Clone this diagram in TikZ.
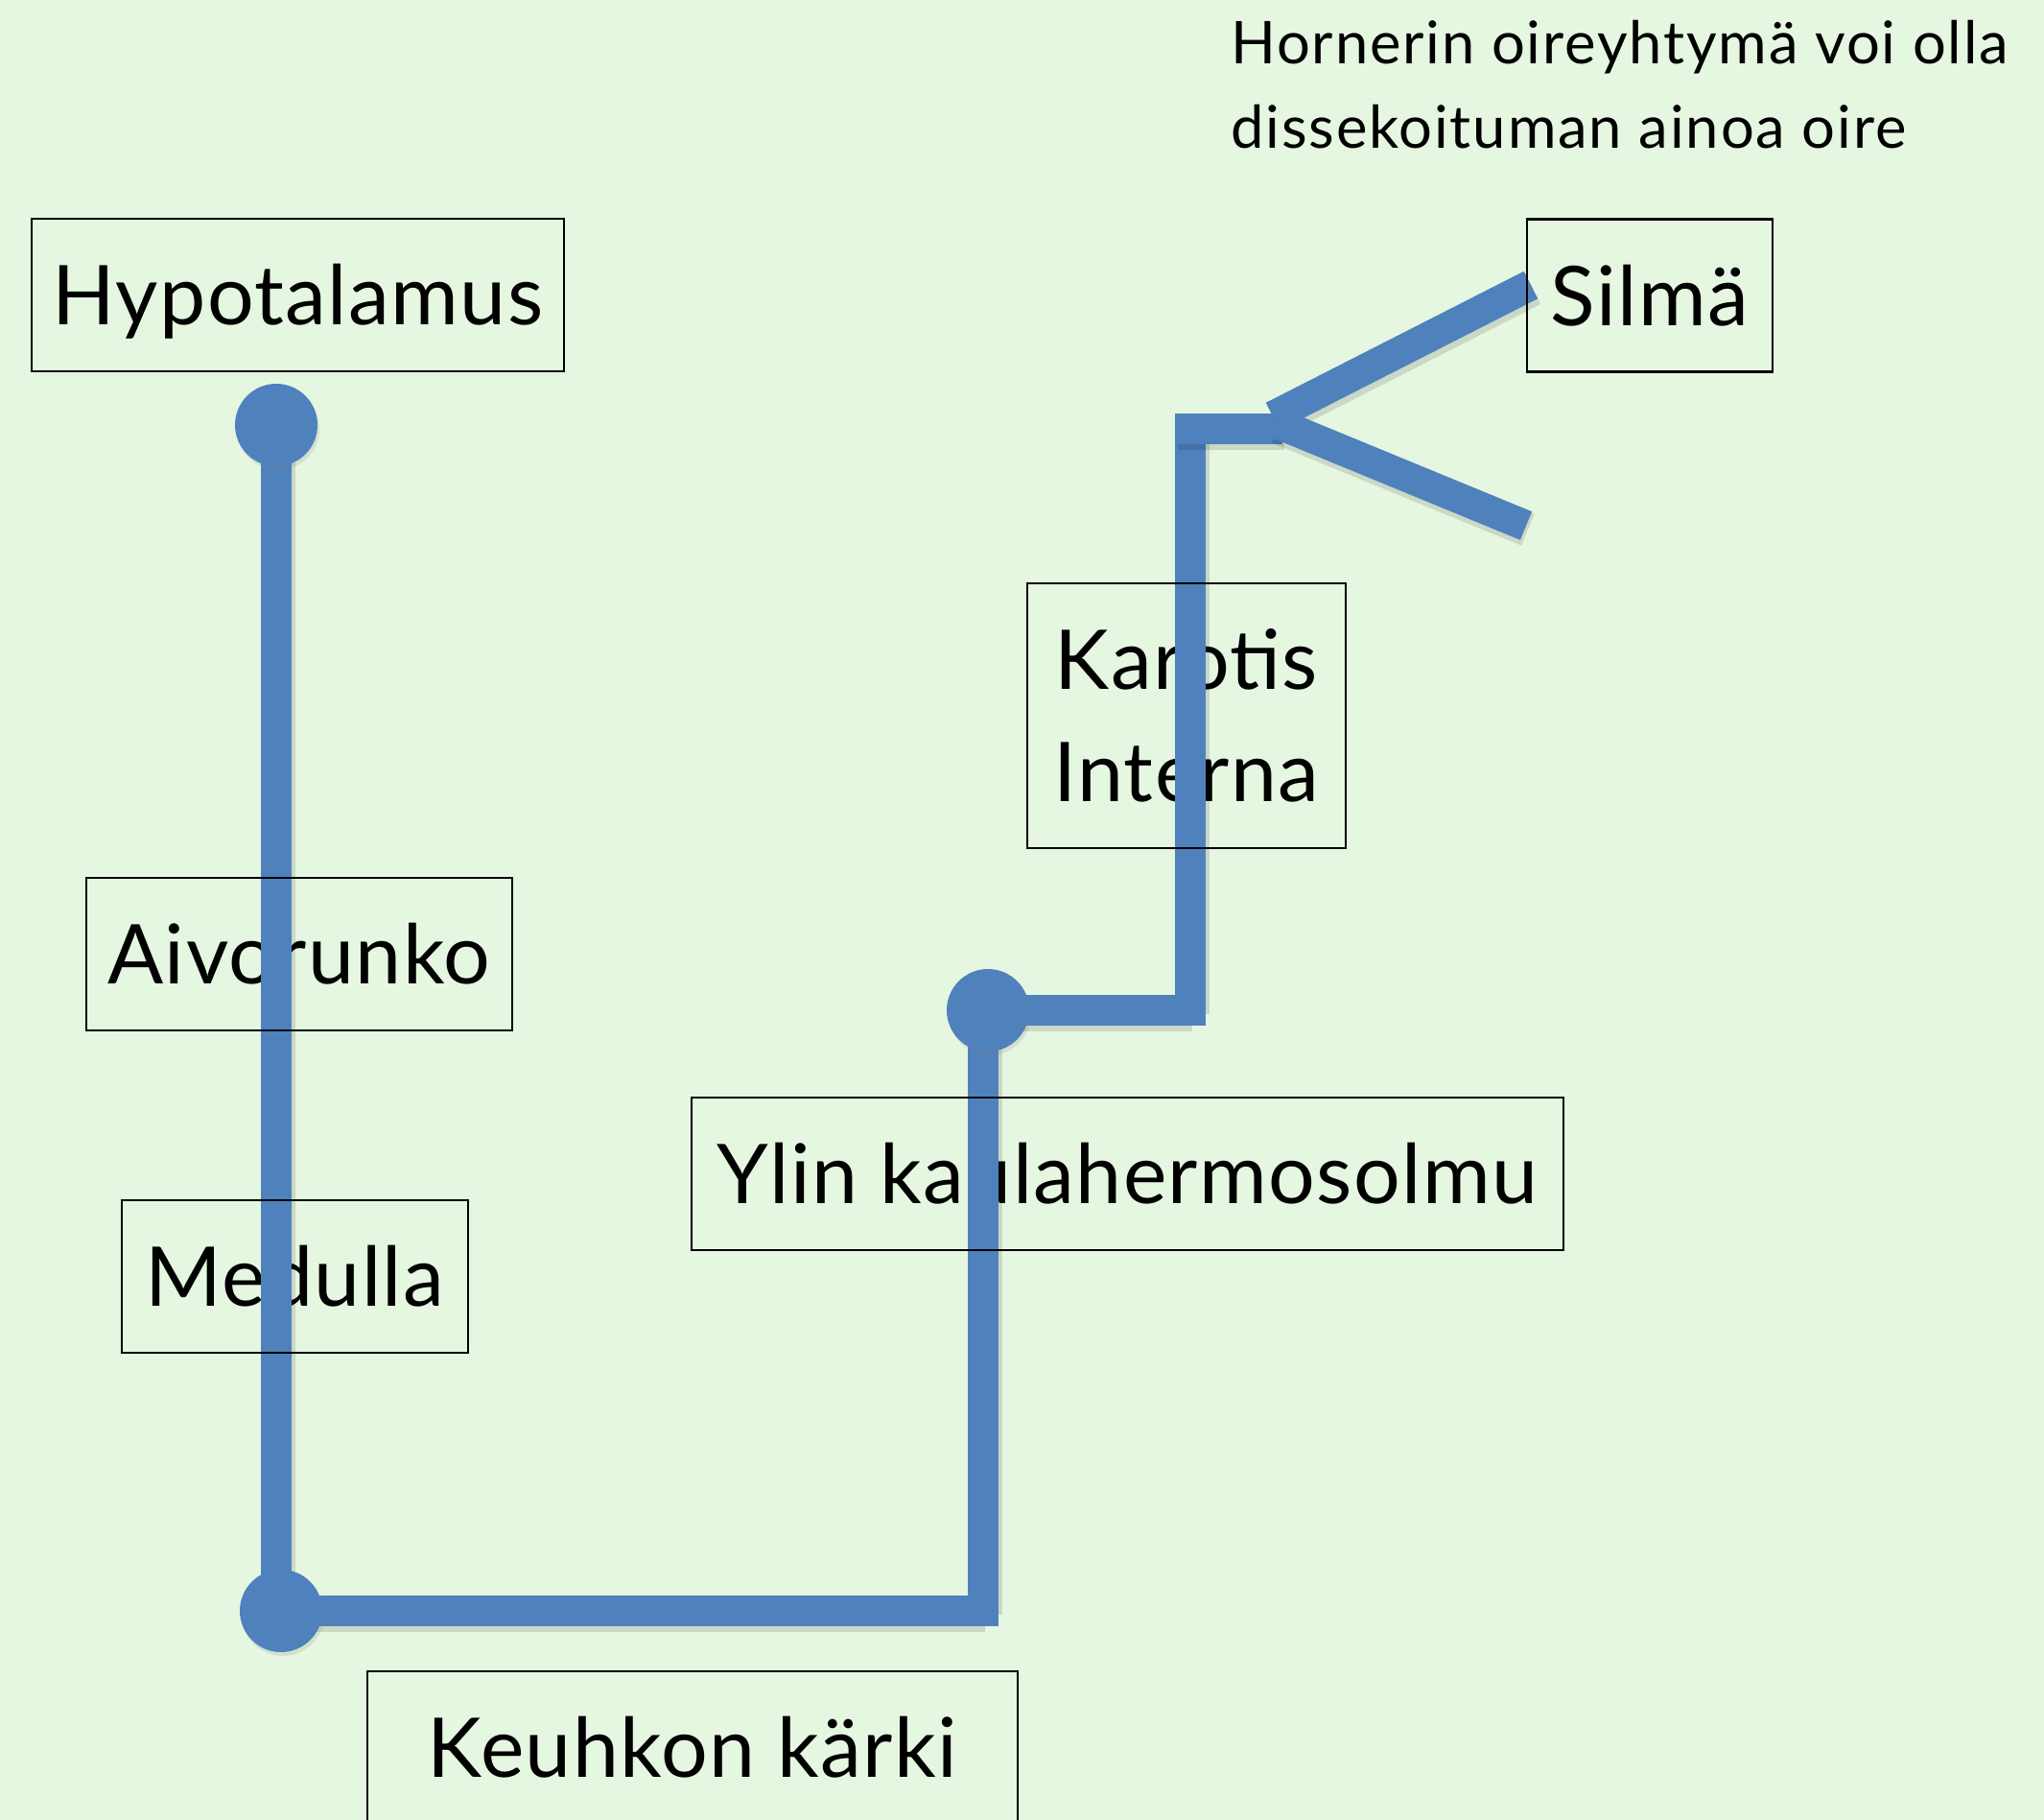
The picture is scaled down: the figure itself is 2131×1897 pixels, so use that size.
\documentclass[tikz,border=0pt]{standalone}
\usepackage{fontspec}
\setmainfont{Lato}[LetterSpace=1.6]
\newfontfamily\titlefont{Lato}[LetterSpace=3]
\usetikzlibrary{shadows}
\definecolor{bg}{RGB}{230,247,225}
\definecolor{nerve}{RGB}{79,129,189}
\tikzset{
  lbl/.style={inner sep=0pt, minimum height=159pt, text height=62pt, text depth=0pt,
    font=\fontsize{86}{117}\selectfont},
  frame/.style={draw=black, line width=2.5pt},
  nerveline/.style={draw=nerve, line width=32pt, line cap=butt,
    preaction={draw=black, draw opacity=0.12, line width=36pt,
      transform canvas={shift={(2pt,-4pt)}}}},
  cornerline/.style={nerveline, line cap=rect},
  ganglion/.style={circle, fill=nerve, minimum size=86pt, inner sep=0pt,
    drop shadow={opacity=0.18, shadow xshift=2pt, shadow yshift=-4pt}}
}
\begin{document}
\begin{tikzpicture}[x=1pt,y=-1pt]
\useasboundingbox (0,0) rectangle (2131,1897);
\fill[bg] (0,0) rectangle (2131,1897);

% labels (text under the nerve lines)
\node[lbl, minimum width=555pt] (hyp) at (310.5,307.5) {Hypotalamus};
\node[lbl, minimum width=444pt] (aiv) at (312,994.5) {Aivorunko};
\node[lbl, minimum width=361pt] (med) at (307.5,1330.5) {Medulla};
\node[lbl, minimum width=332pt, minimum height=276pt, align=center, text height=179pt, text depth=0pt] (kar) at (1237,746) {Karotis\\Interna};
\node[lbl, minimum width=909pt] (ylin) at (1175.5,1223.5) {Ylin kaulahermosolmu};
\node[lbl, minimum width=256pt] (silma) at (1720,308) {Silmä};
\node[lbl, minimum width=678pt] (keuh) at (722,1821.5) {Keuhkon kärki};
\node[anchor=north west, align=left, inner sep=0pt, text height=130pt, text depth=0pt,
  font=\titlefont\fontsize{61.5}{88}\selectfont] (title) at (1283,24)
  {Hornerin oireyhtymä voi olla\\dissekoituman ainoa oire};

% path coordinates
\coordinate (p1) at (288,443);
\coordinate (p2) at (288,1679);
\coordinate (p3) at (293,1679);
\coordinate (p4) at (1025,1679);
\coordinate (p5) at (1025,1053);
\coordinate (p6) at (1030,1053);
\coordinate (p7) at (1241,1053);
\coordinate (p8) at (1241,447);
\coordinate (p9) at (1226,447);
\coordinate (p10) at (1337,447);
\coordinate (b1s) at (1327,434);
\coordinate (b1e) at (1596,297);
\coordinate (b2s) at (1331,441);
\coordinate (b2e) at (1591,548);

% nerve pathway
\draw[nerveline] (p1) -- (p2);
\draw[cornerline] (p3) -- (p4);
\draw[cornerline] (p4) -- (p5);
\draw[cornerline] (p6) -- (p7);
\draw[cornerline] (p7) -- (p8);
\draw[nerveline] (p9) -- (p10);
\draw[nerveline] (b1s) -- (b1e);
\draw[nerveline] (b2s) -- (b2e);

% ganglia
\node[ganglion] (g1) at (p1) {};
\node[ganglion] (g2) at (p3) {};
\node[ganglion] (g3) at (p6) {};

% frames on top
\foreach \n in {hyp,aiv,med,kar,ylin,silma,keuh}
  \draw[frame] (\n.south west) rectangle (\n.north east);
\end{tikzpicture}
\end{document}
